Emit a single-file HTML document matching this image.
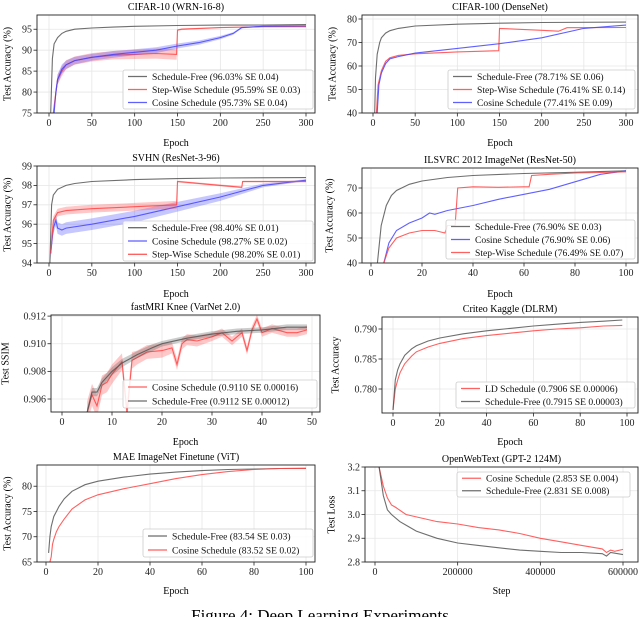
<!DOCTYPE html>
<html><head><meta charset="utf-8"><style>
html,body{margin:0;padding:0;background:#fff;}
svg{display:block;font-family:"Liberation Serif","DejaVu Serif",serif;}
</style></head><body>
<svg id="fig" width="640" height="617" viewBox="0 0 640 617"></svg>
<script>
// ---- data ----
const c10SfX=[2,4,6,10,15,20,30,50,75,100,150,200,250,300];
const c10SfY=[75,88,91.5,93,94,94.5,95,95.3,95.5,95.7,95.9,96,96,96.1];
const c10StX=[5,8,10,15,20,30,50,75,100,125,149,150,155,200,250,300];
const c10StY=[75,80,83,85,86.5,87.5,88.3,88.8,89,89.2,89,94.8,95,95.4,95.6,95.6];
const c10StSE=[1,1.2,1.2,1.2,1.1,1,1,1,1.1,1.2,1.3,0.2,0.2,0.1,0.1,0.1];
const c10CoX=[6,8,10,15,20,30,50,75,100,125,150,175,200,215,225,250,300];
const c10CoY=[75,80,83,85.5,86.5,87.5,88.3,89,89.5,90,91,91.8,93,94,95.4,95.7,95.8];
const c10CoSE=[1,1.2,1.2,1.1,1,0.9,0.8,0.8,0.7,0.7,0.6,0.5,0.4,0.3,0.2,0.1,0.1];
const c100SfX=[2,3,5,8,10,15,20,30,50,100,150,200,300];
const c100SfY=[40,55,65,70,72,74,75,76,77,77.8,78.2,78.5,78.7];
const c100StX=[4,6,10,15,20,30,50,100,149,150,200,220,230,300];
const c100StY=[40,52,58,62,63.5,64.5,65.2,66,66.5,76,75.2,74.8,76.3,76.4];
const c100CoX=[5,7,10,15,20,30,50,100,150,200,250,300];
const c100CoY=[40,52,57,61,63,64,65.5,67.5,69.5,72,76,77.4];
const svSfX=[1,3,5,10,20,30,50,100,150,200,300];
const svSfY=[94,97,97.5,97.8,98,98.1,98.2,98.3,98.35,98.38,98.4];
const svCoX=[2,5,8,10,15,20,50,100,150,200,250,300];
const svCoY=[94.5,95.8,96.2,95.8,95.7,95.8,96.0,96.4,96.9,97.4,98,98.27];
const svCoSE=[0.3,0.3,0.3,0.3,0.3,0.3,0.3,0.3,0.25,0.2,0.1,0.05];
const svStX=[2,5,10,20,50,100,149,150,200,225,226,300];
const svStY=[94.5,96.2,96.6,96.7,96.8,96.9,97.0,98.2,98.0,97.9,98.2,98.2];
const svStSE=[0.2,0.2,0.2,0.2,0.2,0.2,0.2,0.05,0.05,0.05,0.05,0.05];
const inSfX=[2.5,4,6,8,10,15,20,30,40,60,80,100];
const inSfY=[40,55,63,67,69,71.5,72.8,74.2,75,75.8,76.3,76.9];
const inCoX=[5,7,10,15,20,23,25,30,40,50,60,70,80,90,100];
const inCoY=[40,48,53,56,58,60,59.5,61,63,65.5,67.5,69.5,72.5,75.5,76.9];
const inStX=[5,7,10,15,20,25,29,30,33,34,40,50,60,62,63,70,80,90,100];
const inStY=[40,46,50,52,53,53,52,55,55,70,70.5,70.3,70.5,70.5,75,75.5,76,76.2,76.5];
const mriCoX=[5,6,7,8,9,10,12,13,14,15,17,20,22,23,24,25,27,30,32,34,35,36,37,38,39,40,42,45,47,49];
const mriCoY=[0.905,0.9063,0.9055,0.9070,0.9072,0.9078,0.9087,0.9050,0.9088,0.9090,0.9094,0.9095,0.9097,0.9085,0.9100,0.9103,0.9102,0.9105,0.9108,0.9102,0.9105,0.9108,0.9095,0.9110,0.9118,0.9108,0.9111,0.9108,0.9108,0.9110];
const mriCoSE=[0.0008,0.0008,0.0008,0.0007,0.0007,0.0007,0.0006,0.0006,0.0006,0.0005,0.0005,0.0005,0.0004,0.0004,0.0004,0.0004,0.0004,0.0003,0.0003,0.0003,0.0003,0.0003,0.0003,0.0003,0.0003,0.0003,0.0003,0.0003,0.0003,0.0003];
const mriSfX=[5,6,7,8,10,12,15,18,20,25,30,35,40,45,49];
const mriSfY=[0.905,0.9065,0.9065,0.9072,0.908,0.9086,0.9092,0.9097,0.9100,0.9104,0.9107,0.9109,0.9110,0.9112,0.9112];
const mriSfSE=[0.0003,0.0003,0.0003,0.0003,0.0003,0.0003,0.00025,0.00025,0.0002,0.0002,0.0002,0.0002,0.0002,0.0002,0.0002];
const crX=[0,1,2,3,5,8,10,15,20,30,40,50,60,70,80,90,98];
const crLdY=[0.7765,0.780,0.7815,0.7827,0.7842,0.7855,0.7862,0.7870,0.7876,0.7884,0.7889,0.7893,0.7897,0.7900,0.7902,0.7905,0.7906];
const crSfY=[0.7765,0.7815,0.7832,0.7842,0.7856,0.7867,0.7872,0.7880,0.7885,0.7892,0.7897,0.7901,0.7905,0.7908,0.7911,0.7913,0.7915];
const maeSfX=[1,1.5,2,3,4,5,7,10,15,20,30,40,50,60,70,80,90,100];
const maeSfY=[66.8,70,72,74,75,76,77.5,79,80.3,81,81.8,82.4,82.8,83.1,83.3,83.4,83.5,83.54];
const maeCoX=[1.5,2,2.5,3,4,5,7,10,15,20,30,40,50,60,70,80,90,100];
const maeCoY=[65,66,68.5,69.5,71,72,73.5,75.5,77.3,78.3,79.5,80.5,81.5,82.3,82.9,83.3,83.5,83.52];
const owCoX=[10000,20000,30000,40000,50000,75000,100000,150000,200000,250000,300000,350000,400000,450000,500000,550000,560000,570000,580000,600000];
const owCoY=[3.2,3.12,3.07,3.04,3.03,3.0,2.99,2.97,2.96,2.945,2.935,2.92,2.9,2.885,2.87,2.855,2.84,2.85,2.845,2.853];
const owSfX=[10000,20000,30000,40000,60000,80000,100000,150000,200000,250000,300000,350000,400000,450000,500000,550000,560000,570000,600000];
const owSfY=[3.2,3.08,3.02,3.0,2.97,2.95,2.93,2.9,2.88,2.87,2.86,2.85,2.845,2.84,2.84,2.835,2.825,2.84,2.831];
const c10XT=[0,50,100,150,200,250,300], c10YT=[75,80,85,90,95];
const c100YT=[40,50,60,70,80];
const svYT=[94,95,96,97,98,99];
const inXT=[0,20,40,60,80,100], inYT=[40,50,60,70];
const mriXT=[0,10,20,30,40,50], mriYT=[0.906,0.908,0.910,0.912];
const crXT=[0,20,40,60,80,100], crYT=[0.780,0.785,0.790];
const maeXT=[0,20,40,60,80,100], maeYT=[65,70,75,80];
const owXT=[0,200000,400000,600000], owYT=[2.8,2.9,3.0,3.1,3.2];

const GRAY='#555', RED='#ff4444', BLUE='#4444ff';
const NS='http://www.w3.org/2000/svg';
const fig=document.getElementById('fig');
function mk(tag,parent){const e=document.createElementNS(NS,tag);parent.appendChild(e);return e;}

const panels=[
 {id:'cifar10',title:'CIFAR-10 (WRN-16-8)',L:37,R:315,T:15,B:113,x0:0,x1:300,px0:49,px1:306,yd:[75,98.4],xt:c10XT,yt:c10YT,xl:'Epoch',xly:146,yl:'Test Accuracy (%)',ylx:8,fmt:v=>v,
  series:[[c10SfX,c10SfY,GRAY,null,'Schedule-Free (96.03% SE 0.04)'],[c10StX,c10StY,RED,c10StSE,'Step-Wise Schedule (95.59% SE 0.03)'],[c10CoX,c10CoY,BLUE,c10CoSE,'Cosine Schedule (95.73% SE 0.04)']],leg:[123,70,313,109]},
 {id:'cifar100',title:'CIFAR-100 (DenseNet)',L:362,R:638,T:15,B:113,x0:0,x1:300,px0:373,px1:626,yd:[40,81.7],xt:c10XT,yt:c100YT,xl:'Epoch',xly:146,yl:'Test Accuracy (%)',ylx:333,fmt:v=>v,
  series:[[c100SfX,c100SfY,GRAY,null,'Schedule-Free (78.71% SE 0.06)'],[c100StX,c100StY,RED,null,'Step-Wise Schedule (76.41% SE 0.14)'],[c100CoX,c100CoY,BLUE,null,'Cosine Schedule (77.41% SE 0.09)']],leg:[448,70,635,109]},
 {id:'svhn',title:'SVHN (ResNet-3-96)',L:37,R:315,T:166,B:263,x0:0,x1:300,px0:49,px1:306,yd:[94,99],xt:c10XT,yt:svYT,xl:'Epoch',xly:297,yl:'Test Accuracy (%)',ylx:8,fmt:v=>v,
  series:[[svSfX,svSfY,GRAY,null,'Schedule-Free (98.40% SE 0.01)'],[svCoX,svCoY,BLUE,svCoSE,'Cosine Schedule (98.27% SE 0.02)'],[svStX,svStY,RED,svStSE,'Step-Wise Schedule (98.20% SE 0.01)']],leg:[123,221,313,261]},
 {id:'imagenet',title:'ILSVRC 2012 ImageNet (ResNet-50)',L:362,R:638,T:168,B:263,x0:0,x1:100,px0:371,px1:626,yd:[40,78],xt:inXT,yt:inYT,xl:'Epoch',xly:297,yl:'Test Accuracy (%)',ylx:330,fmt:v=>v,
  series:[[inSfX,inSfY,GRAY,null,'Schedule-Free (76.90% SE 0.03)'],[inCoX,inCoY,BLUE,null,'Cosine Schedule (76.90% SE 0.06)'],[inStX,inStY,RED,null,'Step-Wise Schedule (76.49% SE 0.07)']],leg:[446,220,635,259]},
 {id:'fastmri',title:'fastMRI Knee (VarNet 2.0)',L:51,R:320,T:315,B:412,x0:0,x1:50,px0:62,px1:312,yd:[0.90506,0.91208],xt:mriXT,yt:mriYT,xl:'Epoch',xly:445,yl:'Test SSIM',ylx:6,fmt:v=>v.toFixed(3),
  series:[[mriCoX,mriCoY,RED,mriCoSE,'Cosine Schedule (0.9110 SE 0.00016)'],[mriSfX,mriSfY,GRAY,mriSfSE,'Schedule-Free (0.9112 SE 0.00012)']],leg:[123,380,317,408]},
 {id:'criteo',title:'Criteo Kaggle (DLRM)',L:382,R:638,T:317,B:413,x0:0,x1:100,px0:393,px1:627,yd:[0.776,0.792],xt:crXT,yt:crYT,xl:'Epoch',xly:445,yl:'Test Accuracy',ylx:336,fmt:v=>v.toFixed(3),
  series:[[crX,crLdY,RED,null,'LD Schedule (0.7906 SE 0.00006)'],[crX,crSfY,GRAY,null,'Schedule-Free (0.7915 SE 0.00003)']],leg:[456,382,635,408]},
 {id:'mae',title:'MAE ImageNet Finetune (ViT)',L:37,R:315,T:465,B:562,x0:0,x1:100,px0:46,px1:306,yd:[65,84.2],xt:maeXT,yt:maeYT,xl:'Epoch',xly:594,yl:'Test Accuracy (%)',ylx:8,fmt:v=>v,
  series:[[maeSfX,maeSfY,GRAY,null,'Schedule-Free (83.54 SE 0.03)'],[maeCoX,maeCoY,RED,null,'Cosine Schedule (83.52 SE 0.02)']],leg:[143,529,313,557]},
 {id:'owt',title:'OpenWebText (GPT-2 124M)',L:365,R:638,T:467,B:562,x0:0,x1:600000,px0:375,px1:623,yd:[2.8,3.2],xt:owXT,yt:owYT,xl:'Step',xly:594,yl:'Test Loss',ylx:332,fmt:v=>v.toFixed(1),
  series:[[owCoX,owCoY,RED,null,'Cosine Schedule (2.853 SE 0.004)'],[owSfX,owSfY,GRAY,null,'Schedule-Free (2.831 SE 0.008)']],leg:[457,472,630,497]}
];

panels.forEach(p=>{
  const g=mk('g',fig);
  
  
  const sx=v=>p.px0+(v-p.x0)/(p.x1-p.x0)*(p.px1-p.px0);
  const sy=v=>p.B-(v-p.yd[0])/(p.yd[1]-p.yd[0])*(p.B-p.T);
  const cid='clip-'+p.id;
  const cp=mk('clipPath',g);cp.setAttribute('id',cid);
  const cr=mk('rect',cp);cr.setAttribute('x',p.L);cr.setAttribute('y',p.T);cr.setAttribute('width',p.R-p.L);cr.setAttribute('height',p.B-p.T);
  p.xt.forEach(v=>{
    const x=sx(v);
    const gl=mk('line',g);gl.setAttribute('x1',x);gl.setAttribute('x2',x);gl.setAttribute('y1',p.T);gl.setAttribute('y2',p.B);gl.setAttribute('stroke','#e6e6e6');gl.setAttribute('stroke-width','0.8');
    const tk=mk('line',g);tk.setAttribute('x1',x);tk.setAttribute('x2',x);tk.setAttribute('y1',p.B);tk.setAttribute('y2',p.B+3.5);tk.setAttribute('stroke','#222');tk.setAttribute('stroke-width','0.8');
    const t=mk('text',g);t.setAttribute('x',x);t.setAttribute('y',p.B+13);t.setAttribute('text-anchor','middle');t.setAttribute('font-size','10');t.setAttribute('fill','#222');t.textContent=v;
    
    
  });
  p.yt.forEach(v=>{
    const y=sy(v);
    const gl=mk('line',g);gl.setAttribute('x1',p.L);gl.setAttribute('x2',p.R);gl.setAttribute('y1',y);gl.setAttribute('y2',y);gl.setAttribute('stroke','#e6e6e6');gl.setAttribute('stroke-width','0.8');
    const tk=mk('line',g);tk.setAttribute('x1',p.L-3.5);tk.setAttribute('x2',p.L);tk.setAttribute('y1',y);tk.setAttribute('y2',y);tk.setAttribute('stroke','#222');tk.setAttribute('stroke-width','0.8');
    const t=mk('text',g);t.setAttribute('x',p.L-5);t.setAttribute('y',y+3.3);t.setAttribute('text-anchor','end');t.setAttribute('font-size','10');t.setAttribute('fill','#222');t.textContent=p.fmt(v);
    
    
  });
  const sg=mk('g',g);sg.setAttribute('clip-path','url(#'+cid+')');
  p.series.forEach((s,i)=>{
    const [xs,ys,col,se]=s;
    if(se){
      let d='';
      xs.forEach((x,j)=>{d+=(j?'L':'M')+sx(x).toFixed(1)+','+sy(ys[j]+se[j]).toFixed(1);});
      for(let j=xs.length-1;j>=0;j--)d+='L'+sx(xs[j]).toFixed(1)+','+sy(ys[j]-se[j]).toFixed(1);
      const b=mk('path',sg);b.setAttribute('d',d+'Z');b.setAttribute('fill',col);b.setAttribute('fill-opacity','0.3');
      
      
    }
    const pl=mk('polyline',sg);
    pl.setAttribute('points',xs.map((x,j)=>sx(x).toFixed(1)+','+sy(ys[j]).toFixed(1)).join(' '));
    pl.setAttribute('fill','none');pl.setAttribute('stroke',col);pl.setAttribute('stroke-width','1.1');pl.setAttribute('stroke-opacity','0.85');
    
    
  });
  const fr=mk('rect',g);fr.setAttribute('x',p.L);fr.setAttribute('y',p.T);fr.setAttribute('width',p.R-p.L);fr.setAttribute('height',p.B-p.T);fr.setAttribute('fill','none');fr.setAttribute('stroke','#222');fr.setAttribute('stroke-width','0.9');
  const tt=mk('text',g);tt.setAttribute('x',(p.L+p.R)/2);tt.setAttribute('y',p.T-5);tt.setAttribute('text-anchor','middle');tt.setAttribute('font-size','10');tt.textContent=p.title;
  
  
  const xl=mk('text',g);xl.setAttribute('x',(p.L+p.R)/2);xl.setAttribute('y',p.xly);xl.setAttribute('text-anchor','middle');xl.setAttribute('font-size','10');xl.textContent=p.xl;
  
  
  const yl=mk('text',g);const cy=(p.T+p.B)/2;yl.setAttribute('x',p.ylx);yl.setAttribute('y',cy);yl.setAttribute('text-anchor','middle');yl.setAttribute('font-size','10');yl.setAttribute('transform','rotate(-90 '+p.ylx+' '+cy+')');yl.setAttribute('dominant-baseline','central');yl.textContent=p.yl;
  
  
  const [lx0,ly0,lx1,ly1]=p.leg;
  const lg=mk('g',g);
  
  
  const lr=mk('rect',lg);lr.setAttribute('x',lx0);lr.setAttribute('y',ly0);lr.setAttribute('width',lx1-lx0);lr.setAttribute('height',ly1-ly0);lr.setAttribute('rx','2');lr.setAttribute('fill','#fff');lr.setAttribute('fill-opacity','0.85');lr.setAttribute('stroke','#ccc');lr.setAttribute('stroke-width','0.8');
  const n=p.series.length,rh=(ly1-ly0)/n;
  p.series.forEach((s,i)=>{
    const yy=ly0+rh*(i+0.5);
    const ll=mk('line',lg);ll.setAttribute('x1',lx0+5);ll.setAttribute('x2',lx0+24);ll.setAttribute('y1',yy);ll.setAttribute('y2',yy);ll.setAttribute('stroke',s[2]);ll.setAttribute('stroke-width','1.3');ll.setAttribute('stroke-opacity','0.85');
    const lt=mk('text',lg);lt.setAttribute('x',lx0+29);lt.setAttribute('y',yy+3.3);lt.setAttribute('font-size','9.6');lt.setAttribute('fill','#111');lt.textContent=s[4];
    
    
  });
});
const cap=mk('text',fig);cap.setAttribute('x','320');cap.setAttribute('y','621');cap.setAttribute('text-anchor','middle');cap.setAttribute('font-size','17');cap.setAttribute('font-family','Liberation Serif, serif');cap.textContent='Figure 4: Deep Learning Experiments';


</script>
</body></html>
